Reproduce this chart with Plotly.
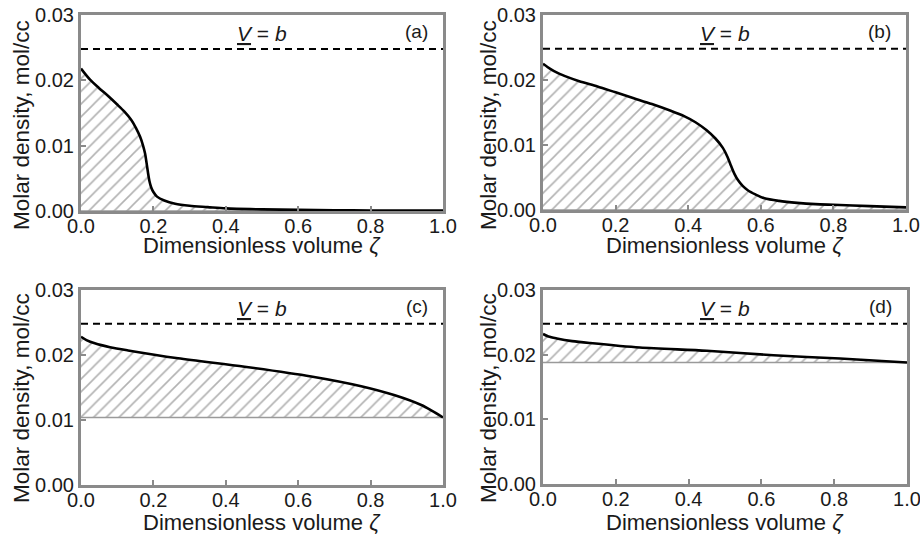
import plotly.graph_objects as go

# ---------------- data ----------------
x_ticks = [0.0, 0.2, 0.4, 0.6, 0.8, 1.0]
y_ticks = [0.00, 0.01, 0.02, 0.03]
v_eq_b = 0.0248  # molar density at V = b
panel_labels = ["(a)", "(b)", "(c)", "(d)"]
x_title = "Dimensionless volume <i>ζ</i>"
y_title = "Molar density, mol/cc"

a_x = [0, 0.025, 0.05, 0.075, 0.1, 0.12, 0.138, 0.152, 0.163, 0.171, 0.177,
       0.181, 0.185, 0.189, 0.194, 0.2, 0.21, 0.23, 0.26, 0.3, 0.35, 0.4,
       0.5, 0.6, 0.7, 0.8, 0.9, 1.0]
a_y = [0.0218, 0.0201, 0.0188, 0.0176, 0.0163, 0.0152, 0.0140, 0.0127, 0.0114, 0.0101,
       0.0088, 0.0074, 0.0059, 0.0046, 0.0036, 0.0029, 0.0022, 0.0016, 0.0011, 0.0008,
       0.0006, 0.0004, 0.00025, 0.00017, 0.00012, 0.00008, 0.00006, 0.00005]
a_base = 0.0

b_x = [0, 0.02, 0.04, 0.07, 0.1, 0.15, 0.2, 0.25, 0.3, 0.35, 0.39, 0.42,
       0.45, 0.475, 0.495, 0.508, 0.518, 0.527, 0.537, 0.55, 0.565, 0.585, 0.61,
       0.65, 0.7, 0.75, 0.8, 0.9, 1.0]
b_y = [0.0225, 0.0217, 0.0211, 0.0204, 0.0198, 0.0190, 0.0181, 0.0172, 0.0163, 0.0153,
       0.0144, 0.0135, 0.0123, 0.0110, 0.0096, 0.0082, 0.0068, 0.0056, 0.0046, 0.0037,
       0.0030, 0.0024, 0.0018, 0.0014, 0.0011, 0.0009, 0.0008, 0.0006, 0.0004]
b_base = 0.0

c_x = [0, 0.015, 0.038, 0.08, 0.13, 0.268, 0.452, 0.636, 0.774, 0.867, 0.94, 0.97, 1.0]
c_y = [0.0228, 0.0223, 0.0218, 0.0212, 0.0207, 0.0195, 0.0182, 0.0167, 0.0152, 0.0138,
       0.0123, 0.0114, 0.0104]
c_base = 0.0104

d_x = [0, 0.015, 0.038, 0.08, 0.129, 0.266, 0.45, 0.633, 0.816, 1.0]
d_y = [0.0232, 0.0228, 0.0225, 0.0221, 0.0218, 0.0211, 0.0206, 0.0199, 0.0194, 0.0188]
d_base = 0.0188

# ---------------- layout constants ----------------
W, H = 920, 534
FONT = "Liberation Sans, Arial, sans-serif"
TXT = "#1a1a1a"
FRAME = "#8a8a8a"

# pixel boxes: (left, right, top, bottom)
boxes = [(81, 443, 15, 211), (543, 906, 15, 210), (81, 443, 290, 485), (543, 907, 290, 484)]
# axis-title pixel positions: (x-title centre y, y-title centre x, y-title centre y)
title_pos = [(245, 21, 125), (245, 488, 125), (522, 21, 398), (522, 488, 398)]

panels = [(a_x, a_y, a_base), (b_x, b_y, b_base), (c_x, c_y, c_base), (d_x, d_y, d_base)]

fig = go.Figure()
layout = dict(
    width=W, height=H, margin=dict(l=0, r=0, t=0, b=0, autoexpand=False),
    paper_bgcolor="white", plot_bgcolor="white", showlegend=False,
    font=dict(family=FONT, color=TXT, size=20),
)
annotations = []

for i, ((xs, ys, base), (l, r, t, b), (xt_y, yt_x, yt_y)) in enumerate(zip(panels, boxes, title_pos)):
    n = i + 1
    xa = "x" if n == 1 else f"x{n}"
    ya = "y" if n == 1 else f"y{n}"
    xkey = "xaxis" if n == 1 else f"xaxis{n}"
    ykey = "yaxis" if n == 1 else f"yaxis{n}"

    base_vals = [base for _ in xs]
    # baseline
    fig.add_trace(go.Scatter(
        x=xs, y=base_vals, xaxis=xa, yaxis=ya, mode="lines",
        line=dict(color="#9a9a9a", width=1.5), hoverinfo="skip"))
    # hatched area + curve
    fig.add_trace(go.Scatter(
        x=xs, y=ys, xaxis=xa, yaxis=ya, mode="lines", fill="tonexty",
        fillcolor="white",
        fillpattern=dict(shape="/", fgcolor="#666666", bgcolor="white", size=9, solidity=0.18),
        line=dict(color="black", width=2.6, shape="spline", smoothing=0.8)))
    # V = b dashed line
    fig.add_trace(go.Scatter(
        x=[0, 1], y=[v_eq_b, v_eq_b], xaxis=xa, yaxis=ya, mode="lines",
        line=dict(color="black", width=2, dash="7px,5px"), hoverinfo="skip"))

    axis_common = dict(
        showline=True, mirror=True, linecolor=FRAME, linewidth=3,
        ticks="inside", ticklen=5, tickwidth=1.5, tickcolor=FRAME,
        showgrid=False, zeroline=False, automargin=False,
        ticklabeloverflow="allow",
        tickfont=dict(family=FONT, size=20, color=TXT),
    )
    layout[xkey] = dict(
        axis_common, domain=[l / W, r / W], range=[0, 1], anchor=ya,
        tickvals=x_ticks, ticktext=[f"{v:.1f}" for v in x_ticks],
        ticklabelstandoff=-5,
    )
    layout[ykey] = dict(
        axis_common, domain=[1 - b / H, 1 - t / H], range=[0, 0.03], anchor=xa,
        tickvals=y_ticks, ticktext=[f"{v:.2f}" for v in y_ticks],
    )
    # axis titles
    annotations.append(dict(
        x=(l + r) / 2 / W, y=1 - xt_y / H, xref="paper", yref="paper", text=x_title,
        showarrow=False, font=dict(size=22, color=TXT, family=FONT),
        xanchor="center", yanchor="middle"))
    annotations.append(dict(
        x=yt_x / W, y=1 - yt_y / H, xref="paper", yref="paper", text=y_title,
        textangle=-90, showarrow=False, font=dict(size=22.5, color=TXT, family=FONT),
        xanchor="center", yanchor="middle"))
    # in-panel labels
    annotations.append(dict(
        x=0.5, y=0.0272, xref=xa, yref=ya, text="<u><i>V</i></u> = <i>b</i>",
        showarrow=False, font=dict(size=21, color=TXT, family=FONT), xanchor="center", yanchor="middle"))
    annotations.append(dict(
        x=0.928, y=0.0274, xref=xa, yref=ya, text=panel_labels[i],
        showarrow=False, font=dict(size=19, color=TXT, family=FONT), xanchor="center", yanchor="middle"))

layout["annotations"] = annotations
fig.update_layout(**layout)
fig.write_html("out.html")
